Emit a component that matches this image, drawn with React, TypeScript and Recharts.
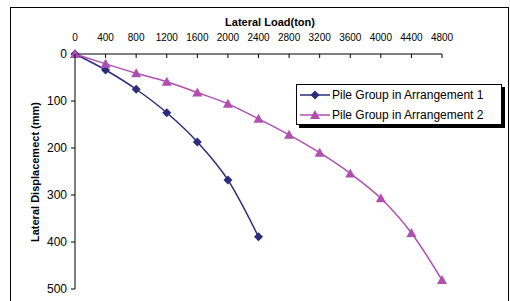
import { LineChart, Line, XAxis, YAxis, Label } from 'recharts';

const loads = [0, 400, 800, 1200, 1600, 2000, 2400, 2800, 3200, 3600, 4000, 4400, 4800];
const arrangement1 = [0, 34, 75, 125, 187, 268, 389];
const arrangement2 = [0, 21, 41, 59, 82, 106, 138, 172, 210, 254, 307, 381, 481];
const xTicks = [0, 400, 800, 1200, 1600, 2000, 2400, 2800, 3200, 3600, 4000, 4400, 4800];
const yTicks = [0, 100, 200, 300, 400, 500];
const seriesNames = ['Pile Group in Arrangement 1', 'Pile Group in Arrangement 2'];

const NAVY = '#2d2c7c';
const PINK = '#b04fb0';

const data = loads.map((load, i) => ({
  load,
  a1: i < arrangement1.length ? arrangement1[i] : undefined,
  a2: arrangement2[i],
}));

const font = '"Liberation Sans", Arial, sans-serif';

function Diamond(props: any) {
  const { cx, cy, index } = props;
  if (cx == null || cy == null) return <g key={index} />;
  return (
    <path
      key={index}
      d={`M${cx},${cy - 4.5} L${cx + 4.5},${cy} L${cx},${cy + 4.5} L${cx - 4.5},${cy} Z`}
      fill={NAVY}
    />
  );
}

function Triangle(props: any) {
  const { cx, cy, index } = props;
  if (cx == null || cy == null) return <g key={index} />;
  return (
    <path
      key={index}
      d={`M${cx},${cy - 5} L${cx + 5},${cy + 4} L${cx - 5},${cy + 4} Z`}
      fill={PINK}
    />
  );
}

function TopTick(props: any) {
  const { x, y, payload } = props;
  return (
    <g>
      <text x={x} y={y} textAnchor="middle" fontSize={10} fontFamily={font} fill="#000">
        {payload.value}
      </text>
      <line x1={x} x2={x} y1={y + 13} y2={y + 17} stroke="#000" />
    </g>
  );
}

function LegendBox() {
  const row = (color: string, label: string, shape: 'd' | 't') => (
    <div style={{ display: 'flex', alignItems: 'center', height: 20 }}>
      <svg width={34} height={12}>
        <line x1={2} x2={32} y1={6} y2={6} stroke={color} strokeWidth={1.5} />
        {shape === 'd' ? (
          <path d="M17,1.5 L21.5,6 L17,10.5 L12.5,6 Z" fill={color} />
        ) : (
          <path d="M17,1 L22,10 L12,10 Z" fill={color} />
        )}
      </svg>
      <span style={{ fontSize: 12, fontFamily: font, color: '#000', whiteSpace: 'nowrap' }}>{label}</span>
    </div>
  );
  return (
    <div
      style={{
        position: 'absolute',
        left: 296,
        top: 84,
        width: 203,
        height: 39,
        border: '1px solid #000',
        background: '#fff',
        boxShadow: '3px 3px 0 #000',
        paddingLeft: 1,
      }}
    >
      {row(NAVY, seriesNames[0], 'd')}
      {row(PINK, seriesNames[1], 't')}
    </div>
  );
}

export default function App() {
  return (
    <div style={{ position: 'absolute', left: 0, top: 0, width: 510, height: 301, background: '#fff', overflow: 'hidden' }}>
      <div
        style={{
          position: 'absolute',
          left: 10,
          top: 7,
          width: 497,
          height: 300,
          border: '1px solid #000',
        }}
      />
      <div style={{ position: 'absolute', left: 0, top: 0 }}>
        <LineChart width={510} height={301} data={data} margin={{ top: 10, right: 68, bottom: 12, left: 0 }}>
          <XAxis
            dataKey="load"
            type="number"
            orientation="top"
            domain={[0, 4800]}
            ticks={xTicks}
            interval={0}
            height={44}
            tickSize={0}
            tickMargin={13}
            tickLine={false}
            tick={<TopTick />}
            axisLine={{ stroke: '#000' }}
          >
            <Label
              content={() => (
                <text x={270} y={26} textAnchor="middle" fontSize={11} fontWeight="bold" fontFamily={font} fill="#000">
                  Lateral Load(ton)
                </text>
              )}
            />
          </XAxis>
          <YAxis
            type="number"
            reversed
            domain={[0, 500]}
            ticks={yTicks}
            interval={0}
            width={75}
            tickSize={4}
            tickMargin={4}
            tick={{ fontSize: 12, fontFamily: font, fill: '#000' }}
            tickLine={{ stroke: '#000' }}
            axisLine={{ stroke: '#000' }}
          >
            <Label
              content={() => (
                <text
                  x={39}
                  y={172}
                  textAnchor="middle"
                  fontSize={11}
                  fontWeight="bold"
                  fontFamily={font}
                  fill="#000"
                  transform="rotate(-90 39 172)"
                >
                  Lateral Displacemect (mm)
                </text>
              )}
            />
          </YAxis>
          <Line
            type="monotone"
            dataKey="a1"
            name={seriesNames[0]}
            stroke={NAVY}
            strokeWidth={1.5}
            dot={<Diamond />}
            activeDot={false}
            isAnimationActive={false}
          />
          <Line
            type="monotone"
            dataKey="a2"
            name={seriesNames[1]}
            stroke={PINK}
            strokeWidth={1.5}
            dot={<Triangle />}
            activeDot={false}
            isAnimationActive={false}
          />
        </LineChart>
      </div>
      <LegendBox />
    </div>
  );
}
